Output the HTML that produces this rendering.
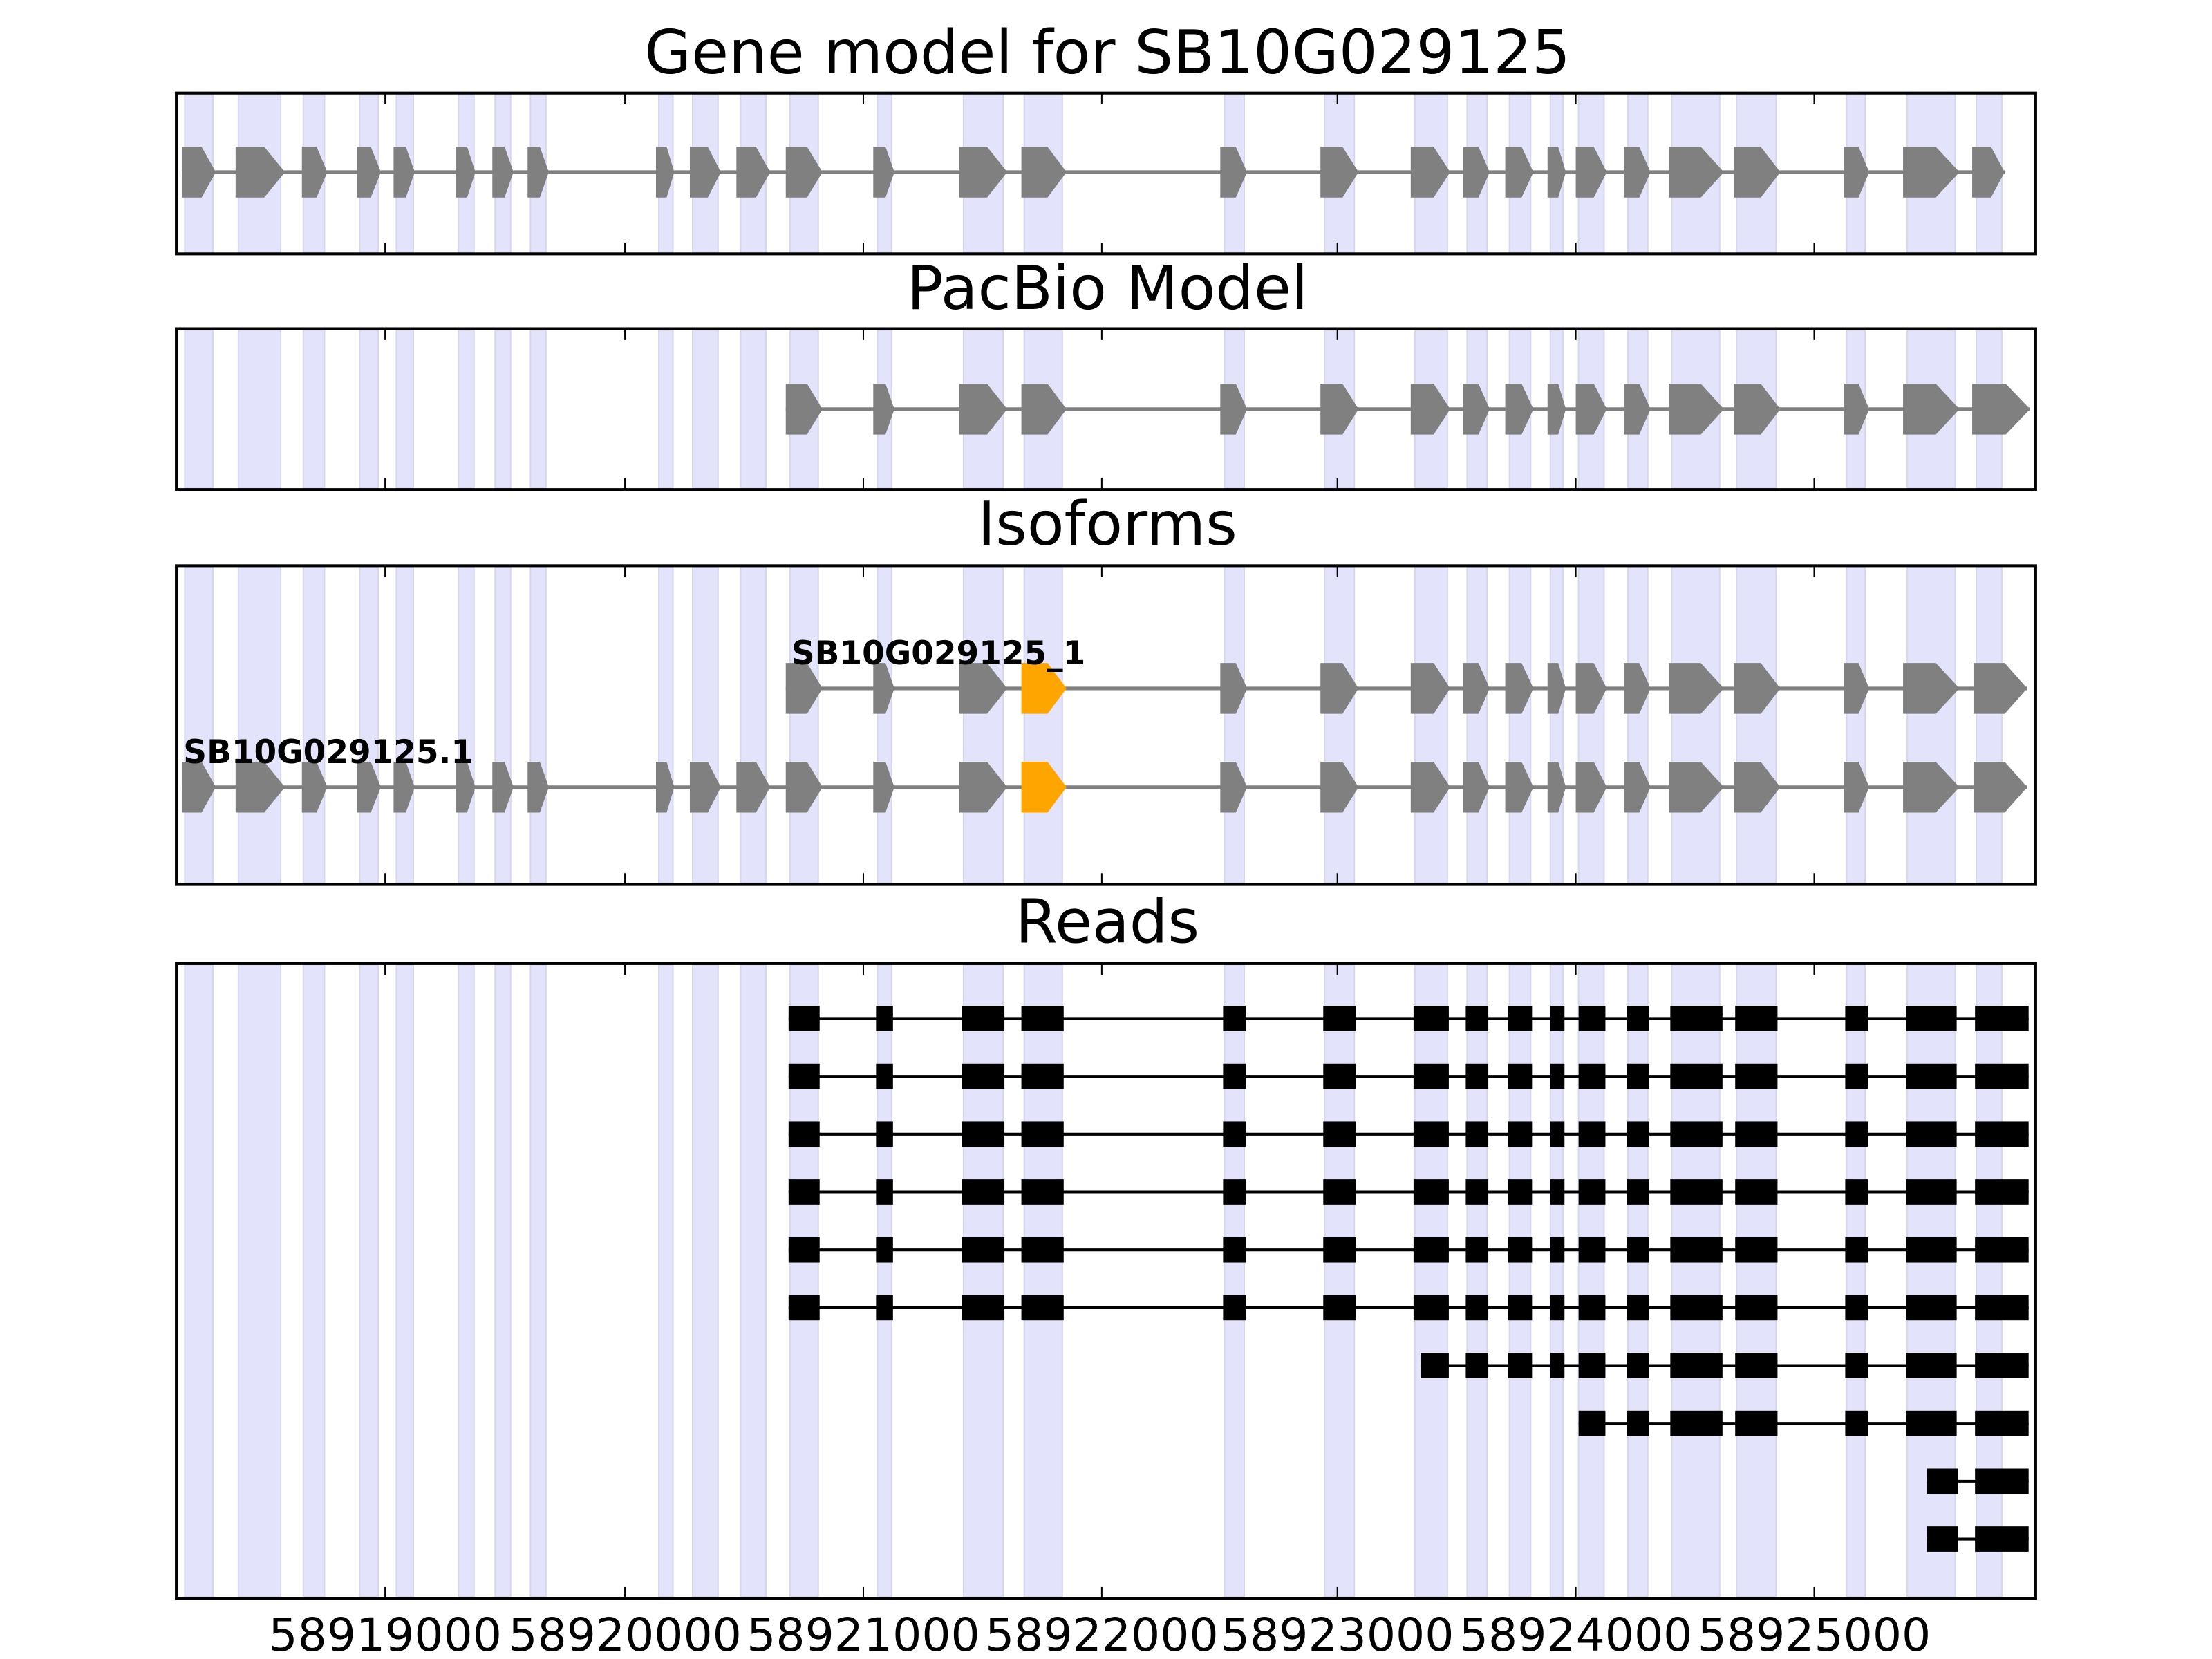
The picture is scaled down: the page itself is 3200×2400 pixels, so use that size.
<!DOCTYPE html>
<html><head><meta charset="utf-8"><style>
html,body{margin:0;padding:0;background:#fff}
svg{display:block}
text{font-family:"DejaVu Sans","Liberation Sans",sans-serif}
</style></head><body>
<svg id="s" width="3200" height="2400" viewBox="0 0 1568 1176" xmlns="http://www.w3.org/2000/svg">
<rect width="1568" height="1176" fill="#fff"/>
<g id="bands"></g>
<g id="shapes"></g>
<g fill="none" stroke="#000" stroke-width="2">
<rect x="125" y="66" width="1318" height="114"/>
<rect x="125" y="233" width="1318" height="114"/>
<rect x="125" y="401" width="1318" height="226"/>
<rect x="125" y="683" width="1318" height="450"/>
</g>
<g id="ticks" stroke="#000" stroke-width="1"></g>
<text x="785" y="52" font-size="43" text-anchor="middle">Gene model for SB10G029125</text>
<text x="785" y="219" font-size="43" text-anchor="middle">PacBio Model</text>
<text x="785" y="386" font-size="43" text-anchor="middle">Isoforms</text>
<text x="785" y="668" font-size="43" text-anchor="middle">Reads</text>
<text x="561" y="471" font-size="23" font-weight="bold">SB10G029125_1</text>
<text x="130" y="541" font-size="23" font-weight="bold">SB10G029125.1</text>
<g font-size="32.5" text-anchor="middle">
<text x="273" y="1170">58919000</text>
<text x="443" y="1170">58920000</text>
<text x="612" y="1170">58921000</text>
<text x="781" y="1170">58922000</text>
<text x="948" y="1170">58923000</text>
<text x="1117" y="1170">58924000</text>
<text x="1286" y="1170">58925000</text>
</g>
</svg>
<script>
var NS="http://www.w3.org/2000/svg";
function el(p,t,a){var e=document.createElementNS(NS,t);for(var k in a)e.setAttribute(k,a[k]);p.appendChild(e);return e;}
var bands=[[131,151],[169,199],[215,230],[255,268],[281,293],[325,336],[351,362],[376,387],[467,477],[491,509],[525,543],[560,580],[622,632],[683,711],[726,753],[868,882],[939,960],[1003,1026],[1040,1054],[1070,1085],[1099,1108],[1119,1137],[1154,1168],[1185,1219],[1231,1259],[1309,1322],[1352,1386],[1401,1419]];
var B=document.getElementById('bands');
[[67,179],[234,346],[402,626],[684,1132]].forEach(function(p){
 bands.forEach(function(b){el(B,'rect',{x:b[0],y:p[0],width:b[1]-b[0],height:p[1]-p[0],fill:'#e3e3fc',stroke:'#d6d6ee','stroke-width':1});});
});
var gm=[[129,153],[167,202],[214,232],[253,270],[279,294],[323,337],[349,364],[374,389],[465,478],[489,511],[522,546],[557,583],[619,634],[680,714],[724,756],[865,884],[936,963],[1000,1028],[1037,1056],[1067,1087],[1097,1110],[1117,1139],[1151,1170],[1183,1222],[1229,1262],[1307,1325],[1349,1389],[1398,1421]];
var S=document.getElementById('shapes');
function gene(ex,y,orangeIdx){
 el(S,'line',{x1:ex[0][0],x2:ex[ex.length-1][1],y1:y,y2:y,stroke:'#808080','stroke-width':2.5});
 ex.forEach(function(e,i){var w=e[1]-e[0],t=w*0.42,h=18;
  el(S,'polygon',{points:e[0]+','+(y-h)+' '+(e[1]-t)+','+(y-h)+' '+e[1]+','+y+' '+(e[1]-t)+','+(y+h)+' '+e[0]+','+(y+h),fill:i===orangeIdx?'#ffa500':'#808080'});});
}
gene(gm,122,-1);
var pb=gm.slice(11).map(function(e){return e.slice();});pb[pb.length-1]=[1398,1439];
gene(pb,290,-1);
var iso1=gm.slice(11).map(function(e){return e.slice();});iso1[iso1.length-1]=[1399,1437];
gene(iso1,488,3);
var iso2=gm.map(function(e){return e.slice();});iso2[iso2.length-1]=[1399,1437];
gene(iso2,558,14);
var rd=[[559,581],[621,633],[682,712],[724,754],[867,883],[938,961],[1002,1027],[1039,1055],[1069,1086],[1099,1109],[1119,1138],[1153,1169],[1184,1221],[1230,1260],[1308,1324],[1351,1387],[1400,1438]];
function read(ex,y){
 el(S,'line',{x1:ex[0][0],x2:ex[ex.length-1][1],y1:y,y2:y,stroke:'#000','stroke-width':2});
 ex.forEach(function(e){el(S,'rect',{x:e[0],y:y-9,width:e[1]-e[0],height:18,fill:'#000'});});
}
[722,763,804,845,886,927].forEach(function(y){read(rd,y);});
var r7=rd.slice(6).map(function(e){return e.slice();});r7[0]=[1007,1027];
read(r7,968);
read(rd.slice(10),1009);
read([[1366,1388],[1400,1438]],1050);
read([[1366,1388],[1400,1438]],1091);
var T=document.getElementById('ticks');
[273,443,612,781,948,1117,1286].forEach(function(x){
 [[66,180],[233,347],[401,627],[683,1133]].forEach(function(p){
  el(T,'line',{x1:x,x2:x,y1:p[0],y2:p[0]+8});el(T,'line',{x1:x,x2:x,y1:p[1]-8,y2:p[1]});});
});
</script>
</body></html>
